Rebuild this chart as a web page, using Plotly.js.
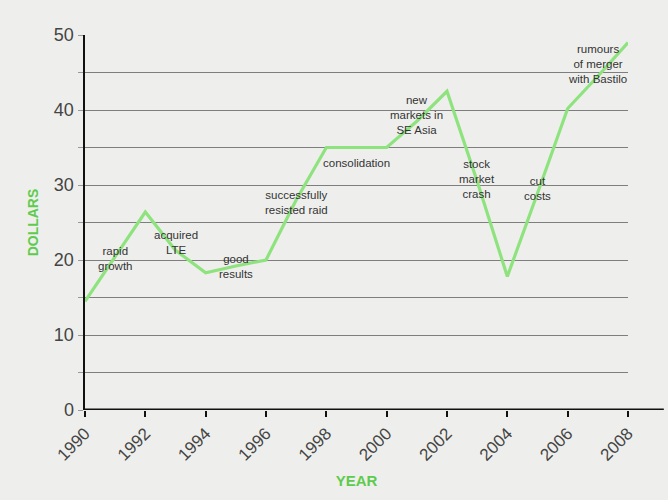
<!DOCTYPE html>
<html>
<head>
<meta charset="utf-8">
<script src="https://cdn.plot.ly/plotly-3.0.1.min.js"></script>
<style>html,body{margin:0;padding:0;background:#eeefec;}#chart{width:668px;height:500px;}</style>
</head>
<body>
<div id="chart"></div>
<script>
const years = [1990,1991,1992,1993,1994,1995,1996,1997,1998,1999,2000,2001,2002,2003,2004,2005,2006,2007,2008];
const dollars = [14.5,20.5,26.4,21.3,18.3,19.2,20.0,28.0,35.0,35.0,35.0,38.5,42.5,30.5,17.8,28.9,40.2,44.5,49.0];

const labelTexts = ["rapid<br>growth","acquired<br>LTE","good<br>results","successfully<br>resisted raid","consolidation","new<br>markets in<br>SE Asia","stock<br>market<br>crash","cut<br>costs","rumours<br>of merger<br>with Bastilo"];
const labelYears = [1991,1993,1995,1997,1999,2001,2003,2005,2007];
const labelY = [20.2,22.4,19.2,27.7,33.0,39.3,30.8,29.5,46.1];

const xTickVals = [1990,1992,1994,1996,1998,2000,2002,2004,2006,2008];

const green = '#8fe37f';
const titleGreen = '#5fcb4e';
const bg = '#eeefec';

const trace = {
  x: years, y: dollars, type: 'scatter', mode: 'lines',
  line: {color: green, width: 3.2},
  hoverinfo: 'skip'
};

const annotations = labelTexts.map((t, i) => ({
  x: labelYears[i], y: labelY[i], xref: 'x', yref: 'y',
  text: t, showarrow: false,
  font: {family: '"Liberation Sans Narrow", "Arial Narrow", "Liberation Sans", Arial, sans-serif', size: 11.5, color: '#333'},
  align: 'center', xanchor: 'center', yanchor: 'middle'
}));

const layout = {
  width: 668, height: 500,
  paper_bgcolor: bg, plot_bgcolor: bg,
  margin: {l: 85, r: 40, t: 35, b: 90},
  showlegend: false,
  xaxis: {
    range: [1990, 2008], tickvals: xTickVals, ticktext: xTickVals.map(String),
    tickangle: -45, ticks: 'outside', ticklen: 6, tickwidth: 2, tickcolor: '#111',
    tickfont: {family: '"Liberation Sans", Arial, sans-serif', size: 17, color: '#444'},
    showgrid: false, zeroline: false, showline: false,
    title: {text: 'YEAR', font: {family: '"Liberation Sans", Arial, sans-serif', size: 15, color: titleGreen, weight: 'bold'}, standoff: 12}
  },
  yaxis: {
    range: [0, 50], tickvals: [0,5,10,15,20,25,30,35,40,45,50],
    ticktext: ['0','','10','','20','','30','','40','','50'],
    ticks: 'outside', ticklen: 5, tickwidth: 1, tickcolor: '#999',
    tickfont: {family: '"Liberation Sans", Arial, sans-serif', size: 18, color: '#444'},
    showgrid: true, gridcolor: '#7e7e7e', gridwidth: 1,
    zeroline: false, showline: true, linecolor: '#111', linewidth: 2.5,
    title: {text: 'DOLLARS', font: {family: '"Liberation Sans", Arial, sans-serif', size: 14, color: titleGreen, weight: 'bold'}, standoff: 12}
  },
  shapes: [{
    type: 'line', xref: 'paper', yref: 'y', x0: -0.003, x1: 1.066, y0: 0, y1: 0,
    line: {color: '#111', width: 3}, layer: 'above'
  }],
  annotations: annotations
};

Plotly.newPlot('chart', [trace], layout, {displayModeBar: false, staticPlot: true});
</script>
</body>
</html>
